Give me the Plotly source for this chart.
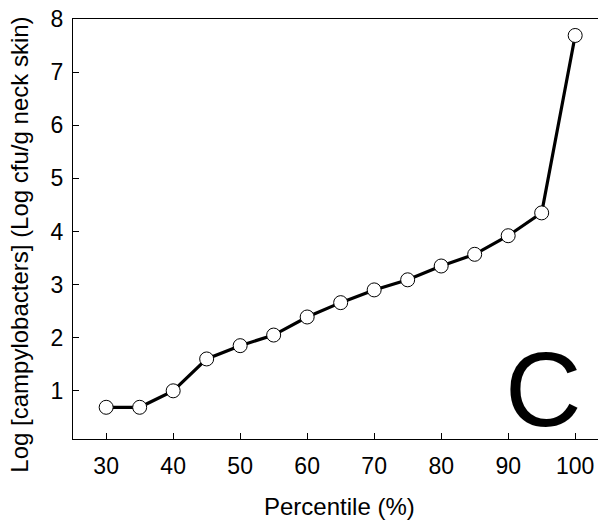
import plotly.graph_objects as go

percentile = [30, 35, 40, 45, 50, 55, 60, 65, 70, 75, 80, 85, 90, 95, 100]
log_count = [0.69, 0.69, 1.00, 1.60, 1.85, 2.05, 2.39, 2.66, 2.90, 3.09, 3.35, 3.57, 3.92, 4.35, 7.69]
x_ticks = [30, 40, 50, 60, 70, 80, 90, 100]
y_ticks = [1, 2, 3, 4, 5, 6, 7, 8]

FONT = "Liberation Sans, Arial, Helvetica, sans-serif"

fig = go.Figure()
fig.add_trace(go.Scatter(
    x=percentile, y=log_count, mode="lines+markers",
    line=dict(color="black", width=3.2),
    marker=dict(symbol="circle", size=14, color="white", line=dict(color="black", width=1)),
    showlegend=False, cliponaxis=False,
))

fig.update_layout(
    width=598, height=518,
    margin=dict(l=65, r=0, t=11, b=87, autoexpand=False),
    paper_bgcolor="white", plot_bgcolor="white",
    font=dict(family=FONT, size=24, color="black"),
    xaxis=dict(
        range=[25.05, 104.6], tickvals=x_ticks, ticks="inside", ticklen=6, tickwidth=1,
        tickcolor="black", showline=True, linecolor="black", linewidth=1.3, mirror=True,
        showgrid=False, zeroline=False, tickfont=dict(size=23), ticklabelstandoff=6,
        automargin=False, ticklabeloverflow="allow",
    ),
    yaxis=dict(
        range=[0.093, 8], tickvals=y_ticks, ticks="inside", ticklen=6, tickwidth=1,
        tickcolor="black", showline=True, linecolor="black", linewidth=1.3, mirror=False,
        showgrid=False, zeroline=False, tickfont=dict(size=23), ticklabelstandoff=4,
        automargin=False, ticklabeloverflow="allow",
    ),
    annotations=[
        dict(text="C", xref="paper", yref="paper", x=0.882, y=0.12,
             xanchor="center", yanchor="middle", showarrow=False,
             font=dict(size=106, color="black", family=FONT)),
        dict(text="Percentile (%)", xref="paper", yref="paper", x=0.5, y=-0.161,
             xanchor="center", yanchor="middle", showarrow=False, font=dict(size=24)),
        dict(text="Log [campylobacters] (Log cfu/g neck skin)", xref="paper", yref="paper",
             x=-0.1, y=0.462, textangle=-90, xanchor="center", yanchor="middle",
             showarrow=False, font=dict(size=24)),
    ],
)

fig.write_html("out.html")
